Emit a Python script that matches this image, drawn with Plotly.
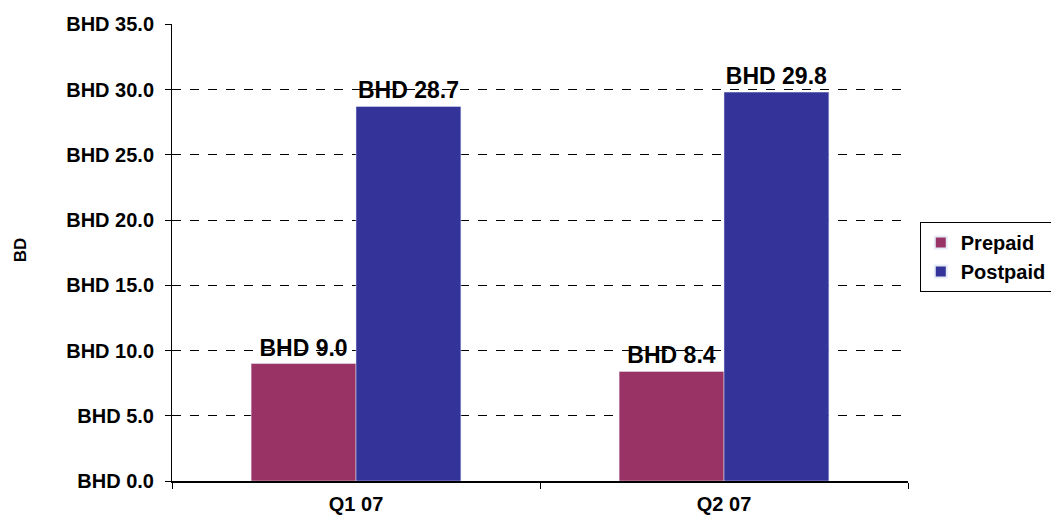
import plotly.graph_objects as go

categories = ["Q1 07", "Q2 07"]
prepaid = [9.0, 8.4]
postpaid = [28.7, 29.8]
y_ticks = [0, 5, 10, 15, 20, 25, 30, 35]
y_tick_labels = ["BHD %.1f" % v for v in y_ticks]

FONT = "Liberation Sans, Arial, sans-serif"

fig = go.Figure()
fig.add_trace(go.Bar(
    name="<b>Prepaid</b>", x=categories, y=prepaid, marker_color="#993366",
    text=["BHD %.1f" % v for v in prepaid], textposition="outside",
    texttemplate="<b>%{text}</b>", cliponaxis=False,
    textfont=dict(family=FONT, size=23, color="black"),
))
fig.add_trace(go.Bar(
    name="<b>Postpaid</b>", x=categories, y=postpaid, marker_color="#333399",
    text=["BHD %.1f" % v for v in postpaid], textposition="outside",
    texttemplate="<b>%{text}</b>", cliponaxis=False,
    textfont=dict(family=FONT, size=23, color="black"),
))

fig.update_layout(
    width=1059, height=518,
    margin=dict(l=164, r=159, t=16, b=45, autoexpand=False),
    paper_bgcolor="white", plot_bgcolor="white",
    barmode="group", bargap=0.43, bargroupgap=0,
    font=dict(family=FONT, color="black"),
    showlegend=True,
    legend=dict(
        x=1.016, y=0.567, xanchor="left", yanchor="top",
        bordercolor="black", borderwidth=1, bgcolor="white",
        font=dict(family=FONT, size=20, color="black"),
        itemsizing="constant", tracegroupgap=0,
    ),
    annotations=[dict(
        text="<b>BD</b>", xref="paper", yref="paper",
        x=-0.2065, y=0.505, xanchor="center", yanchor="middle",
        textangle=-90, showarrow=False,
        font=dict(family=FONT, size=17, color="black"),
    )],
)

fig.update_yaxes(
    range=[0, 35.02], tickvals=y_ticks, ticktext=["<b>%s</b>" % t for t in y_tick_labels],
    tickfont=dict(family=FONT, size=20, color="black"),
    showline=True, linecolor="black", linewidth=1,
    ticks="outside", ticklen=6, tickcolor="black",
    showgrid=True, gridcolor="black", griddash="dash", gridwidth=1,
    zeroline=False, ticklabelstandoff=7, automargin=False,
)
fig.update_xaxes(
    tickvals=categories, ticktext=["<b>%s</b>" % c for c in categories],
    tickfont=dict(family=FONT, size=20, color="black"),
    showline=True, linecolor="black", linewidth=1.5,
    ticks="outside", tickson="boundaries", ticklen=6, tickcolor="black",
    showgrid=False, ticklabelstandoff=4, automargin=False,
)

fig.write_html("out.html")
